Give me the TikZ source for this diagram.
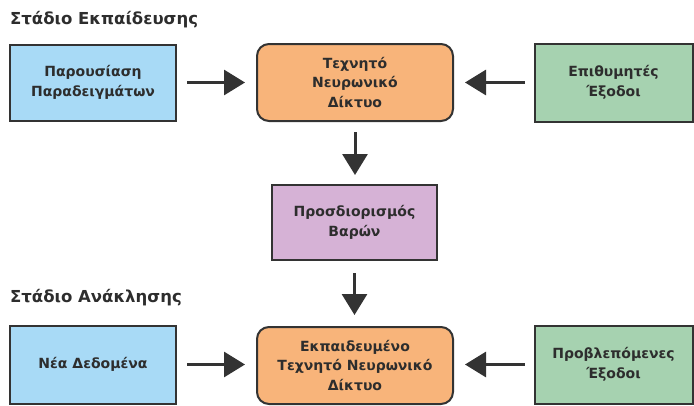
\documentclass[tikz,border=0pt]{standalone}
\usepackage{fontspec}
\setmainfont{DejaVu Sans}
\usetikzlibrary{arrows.meta}
\definecolor{bluef}{RGB}{168,218,246}
\definecolor{orangef}{RGB}{248,180,122}
\definecolor{greenf}{RGB}{166,210,176}
\definecolor{purplef}{RGB}{214,178,214}
\definecolor{edge}{RGB}{51,51,51}
\definecolor{txt}{RGB}{45,45,45}
\tikzset{
  boxbase/.style={draw=edge, line width=2pt, inner sep=0pt, align=center,
    font=\fontsize{14}{19.5}\selectfont\bfseries, text=txt},
  bluebox/.style={boxbase, fill=bluef, minimum width=166pt, minimum height=76pt},
  greenbox/.style={boxbase, fill=greenf, minimum width=158pt, minimum height=78pt},
  orangebox/.style={boxbase, fill=orangef, rounded corners=12pt, minimum width=196pt, minimum height=77pt},
  purplebox/.style={boxbase, fill=purplef, minimum width=165pt, minimum height=75pt},
  stagetitle/.style={anchor=west, inner sep=0pt, font=\fontsize{16.5}{19}\selectfont\bfseries, text=txt},
  arr/.style={draw=edge, line width=3pt, -{Triangle[width=25pt,length=21pt]}}
}
\begin{document}
\begin{tikzpicture}[x=1pt,y=-1pt]
\useasboundingbox (0,0) rectangle (694,405);
\node[stagetitle] (t1) at (10,19.5) {Στάδιο Εκπαίδευσης};
\node[stagetitle] (t2) at (10,298) {Στάδιο Ανάκλησης};

\node[bluebox] (b1) at (93,82.5) {Παρουσίαση\\Παραδειγμάτων};
\node[orangebox] (o1) at (355,82.5) {Τεχνητό\\Νευρωνικό\\Δίκτυο};
\node[greenbox] (g1) at (613.5,82.5) {Επιθυμητές\\Έξοδοι};
\node[purplebox] (p) at (354.5,222.5) {Προσδιορισμός\\Βαρών};
\node[bluebox, minimum height=78pt] (b2) at (93,364.5) {Νέα Δεδομένα};
\node[orangebox] (o2) at (355,365.5) {Εκπαιδευμένο\\Τεχνητό Νευρωνικό\\Δίκτυο};
\node[greenbox] (g2) at (613.5,364.5) {Προβλεπόμενες\\Έξοδοι};

\draw[arr, shorten <=10pt, shorten >=11pt] (b1.east) -- (b1.east -| o1.west);
\draw[arr, shorten <=9pt, shorten >=11pt] (g1.west) -- (g1.west -| o1.east);
\draw[arr, shorten <=10pt, shorten >=9pt] (o1.south) -- (o1.south |- p.north);
\draw[arr, shorten <=12pt, shorten >=11pt] (p.south) -- (p.south |- o2.north);
\draw[arr, shorten <=10pt, shorten >=11pt] (b2.east) -- (b2.east -| o2.west);
\draw[arr, shorten <=9pt, shorten >=11pt] (g2.west) -- (g2.west -| o2.east);
\end{tikzpicture}
\end{document}
